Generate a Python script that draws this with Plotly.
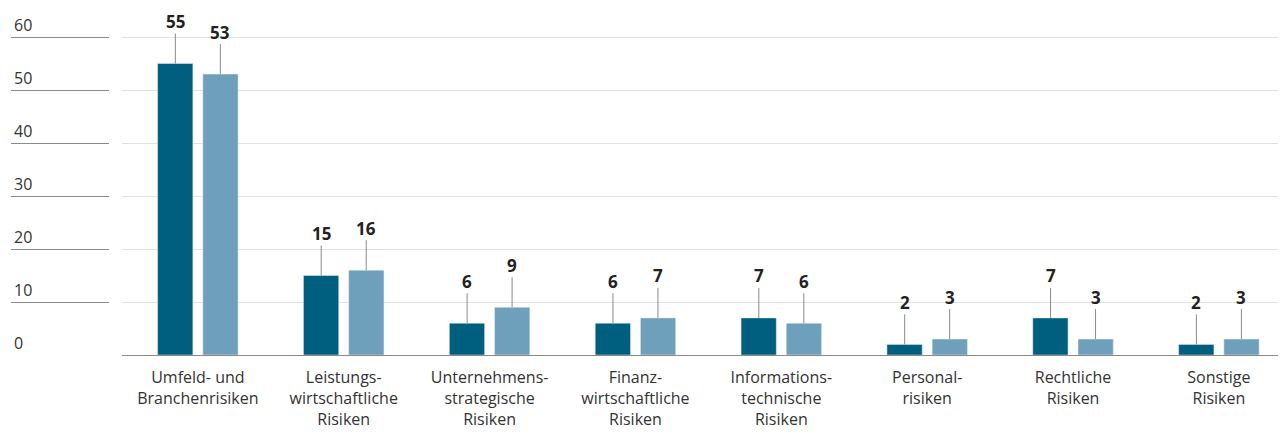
import plotly.graph_objects as go

categories = [
    "Umfeld- und<br>Branchenrisiken",
    "Leistungs-<br>wirtschaftliche<br>Risiken",
    "Unternehmens-<br>strategische<br>Risiken",
    "Finanz-<br>wirtschaftliche<br>Risiken",
    "Informations-<br>technische<br>Risiken",
    "Personal-<br>risiken",
    "Rechtliche<br>Risiken",
    "Sonstige<br>Risiken",
]
series_dark = [55, 15, 6, 6, 7, 2, 7, 2]
series_light = [53, 16, 9, 7, 6, 3, 3, 3]
y_ticks = [0, 10, 20, 30, 40, 50, 60]

DARK = "#005e7e"
LIGHT = "#6fa0bb"
FONT = "Open Sans, Noto Sans, sans-serif"
Y_MAX = 343 / 5.3  # plot height in px / px per unit

fig = go.Figure()
fig.add_trace(go.Bar(x=categories, y=series_dark, marker_color=DARK, name="A", hoverinfo="skip"))
fig.add_trace(go.Bar(x=categories, y=series_light, marker_color=LIGHT, name="B", hoverinfo="skip"))
# invisible carrier so the left label axis (y2) is drawn
fig.add_trace(go.Scatter(x=categories, y=series_dark, yaxis="y2", mode="markers",
                         marker=dict(opacity=0), hoverinfo="skip", showlegend=False))

annotations = []
for shift, vals in ((-22.5, series_dark), (22.5, series_light)):
    for c, v in zip(categories, vals):
        annotations.append(dict(
            x=c, y=v, xref="x", yref="y", xshift=shift,
            text="<b>" + str(v) + "</b>", showarrow=True, arrowhead=0, arrowwidth=1,
            arrowcolor="#8a8a8a", ax=0, ay=-42, borderpad=0,
            font=dict(family=FONT, size=17, color="#222"),
        ))

fig.update_layout(
    width=1278, height=427,
    margin=dict(l=2, r=0, t=4, b=80),
    paper_bgcolor="white", plot_bgcolor="white",
    showlegend=False,
    barmode="group", bargap=0.38, bargroupgap=0.22,
    font=dict(family=FONT, size=16, color="#333"),
    annotations=annotations,
    xaxis=dict(
        domain=[112 / 1276, 1], range=[-0.52, 7.46],
        showline=True, linecolor="#8a8a8a", linewidth=1,
        ticks="", ticklabelstandoff=8, tickfont=dict(size=16, color="#333"),
    ),
    yaxis=dict(
        range=[0, Y_MAX], tickvals=y_ticks, showticklabels=False,
        showgrid=True, gridcolor="#e2e2e2", gridwidth=1,
        zeroline=False, ticks="",
    ),
    yaxis2=dict(
        overlaying="y", anchor="free", position=0, side="left",
        range=[0, Y_MAX], tickvals=y_ticks,
        ticks="inside", ticklen=98, tickcolor="#8a8a8a", tickwidth=1,
        ticklabelposition="inside top",
        showgrid=False, zeroline=False, showline=False,
        tickfont=dict(size=16, color="#333"),
    ),
)

fig.write_html("out.html")
